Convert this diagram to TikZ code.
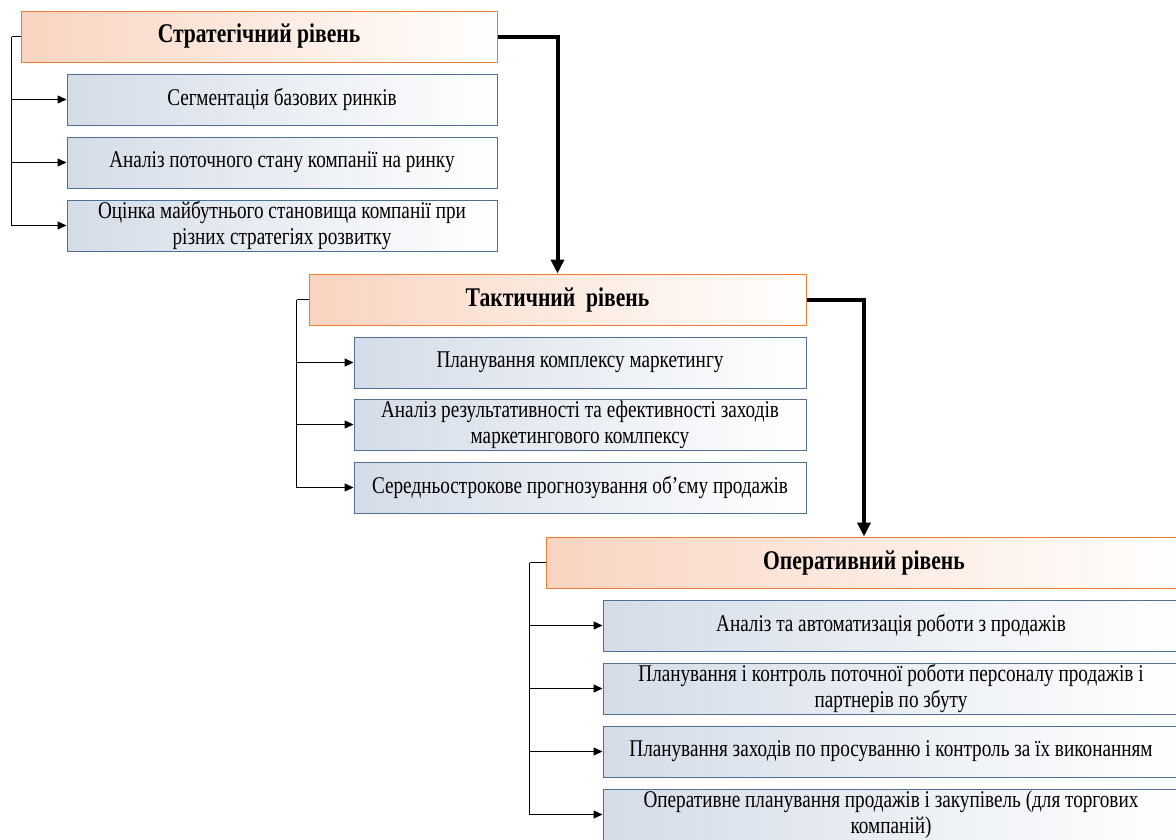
\documentclass[tikz,border=0pt]{standalone}
\usepackage{fontspec}
\setmainfont{Liberation Serif}[FakeStretch=0.8]
\usetikzlibrary{arrows.meta}
\definecolor{lvlborder}{RGB}{237,125,49}
\definecolor{lvlfill}{RGB}{249,212,192}
\definecolor{taskborder}{RGB}{80,112,148}
\definecolor{taskfill}{RGB}{212,220,232}
\begin{document}
\begin{tikzpicture}[x=1pt,y=-1pt,
  every node/.style={font=\fontsize{24}{26}\selectfont},
  level/.style={draw=lvlborder, line width=1pt, left color=lvlfill, right color=white,
    minimum height=51pt, inner sep=0pt, font=\fontsize{27}{30}\selectfont\bfseries},
  task/.style={draw=taskborder, line width=1pt, left color=taskfill, right color=white,
    minimum height=51pt, inner sep=0pt, align=center},
  link/.style={line width=1.3pt, -{Triangle[width=8pt,length=9pt]}},
  bracket/.style={line width=1.3pt},
  flow/.style={line width=4pt, -{Triangle[width=13pt,length=14pt]}}
]
\useasboundingbox (0,0) rectangle (1176,839);
\clip (0,0) rectangle (1176,839);

% strategic level
\node[level, minimum width=476pt] (S) at (259,36.5) {Стратегічний рівень};
\node[task, minimum width=430pt] (s1) at (282,99.5) {Сегментація базових ринків};
\node[task, minimum width=430pt] (s2) at (282,162.5) {Аналіз поточного стану компанії на ринку};
\node[task, minimum width=430pt] (s3) at (282,225.5) {Оцінка майбутнього становища компанії при\\різних стратегіях розвитку};

% tactical level
\node[level, minimum width=497pt] (T) at (557.5,299.5) {Тактичний\ \ рівень};
\node[task, minimum width=452pt] (t1) at (580,362.5) {Планування комплексу маркетингу};
\node[task, minimum width=452pt] (t2) at (580,424.5) {Аналіз результативності та ефективності заходів\\маркетингового комлпексу};
\node[task, minimum width=452pt] (t3) at (580,487.5) {Середньострокове прогнозування об’єму продажів};

% operational level
\node[level, minimum width=636pt] (O) at (864,562.5) {Оперативний рівень};
\node[task, minimum width=576pt] (o1) at (891,625.5) {Аналіз та автоматизація роботи з продажів};
\node[task, minimum width=576pt] (o2) at (891,688.5) {Планування і контроль поточної роботи персоналу продажів і\\партнерів по збуту};
\node[task, minimum width=576pt] (o3) at (891,751.5) {Планування заходів по просуванню і контроль за їх виконанням};
\node[task, minimum width=576pt] (o4) at (891,814.5) {Оперативне планування продажів і закупівель (для торгових\\компаній)};

% brackets from each level to its tasks
\draw[bracket] (S.west) -- ++(-9,0) coordinate (sb);
\draw[link] (sb) |- (s3.west);
\draw[link] (sb |- s1.west) -- (s1.west);
\draw[link] (sb |- s2.west) -- (s2.west);

\draw[bracket] (T.west) -- ++(-12,0) coordinate (tb);
\draw[link] (tb) |- (t3.west);
\draw[link] (tb |- t1.west) -- (t1.west);
\draw[link] (tb |- t2.west) -- (t2.west);

\draw[bracket] (O.west) -- ++(-16,0) coordinate (ob);
\draw[link] (ob) |- (o4.west);
\draw[link] (ob |- o1.west) -- (o1.west);
\draw[link] (ob |- o2.west) -- (o2.west);
\draw[link] (ob |- o3.west) -- (o3.west);

% flow between levels
\draw[flow] (S.east) -| (T.north);
\draw[flow] (T.east) -| (O.north);
\end{tikzpicture}
\end{document}
